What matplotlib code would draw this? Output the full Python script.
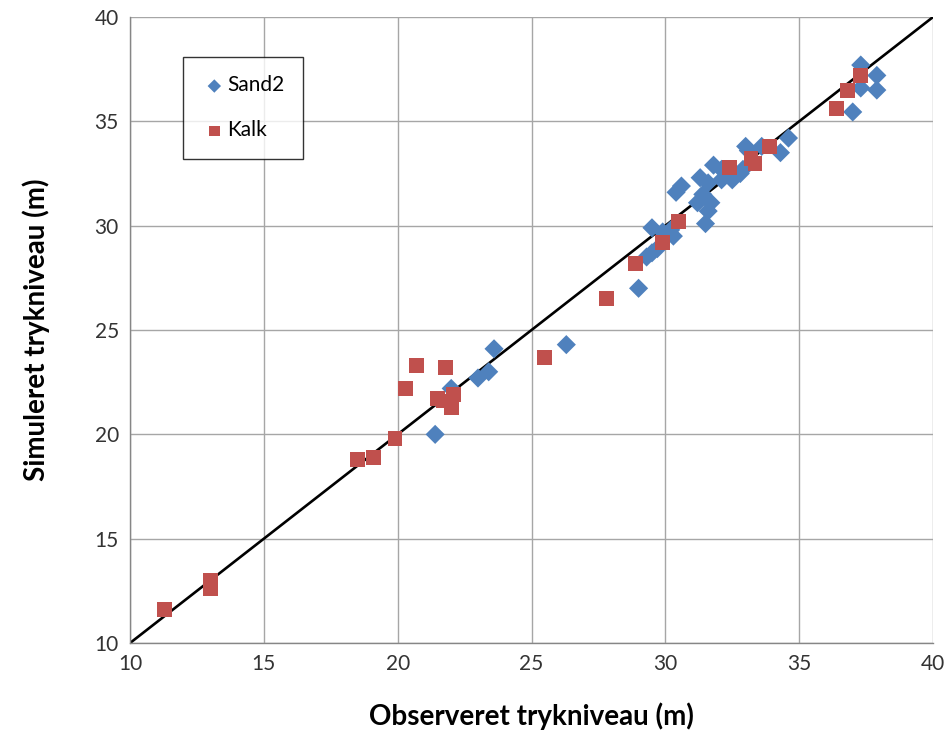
import matplotlib
matplotlib.use("Agg")
import matplotlib.pyplot as plt

sand2_x = [21.4, 22.0, 23.0, 23.4, 23.6, 26.3, 29.0, 29.3, 29.5, 29.7, 29.5, 29.9, 30.2, 30.3,
           30.4, 30.6, 31.2, 31.4, 31.3, 31.6, 31.7, 31.6, 31.5, 31.8, 32.1, 32.1, 32.5, 32.9,
           33.0, 33.1, 33.6, 34.3, 34.6, 32.8, 32.4, 37.0, 37.3, 37.3, 37.9, 37.9]
sand2_y = [20.0, 22.2, 22.7, 23.0, 24.1, 24.3, 27.0, 28.5, 28.7, 28.9, 29.9, 29.7, 29.8, 29.5,
           31.6, 31.9, 31.1, 31.5, 32.3, 32.05, 31.1, 30.7, 30.1, 32.9, 32.7, 32.2, 32.2, 32.7,
           33.8, 33.6, 33.8, 33.5, 34.2, 32.5, 32.4, 35.45, 36.6, 37.7, 37.2, 36.5]

kalk_x = [11.3, 13.0, 13.0, 18.5, 19.1, 19.9, 20.3, 20.7, 21.8, 21.5, 21.7, 22.1, 22.0, 25.5,
          27.8, 28.9, 29.9, 30.5, 32.4, 33.2, 33.35, 33.9, 36.4, 36.8, 37.3]
kalk_y = [11.6, 13.0, 12.6, 18.8, 18.9, 19.8, 22.2, 23.3, 23.2, 21.7, 21.6, 21.9, 21.3, 23.7,
          26.5, 28.2, 29.2, 30.2, 32.8, 33.2, 33.0, 33.8, 35.6, 36.5, 37.2]

line_vals = [10, 40]
ticks = [10, 15, 20, 25, 30, 35, 40]

plt.rcParams['font.family'] = ['Lato', 'DejaVu Sans']

fig = plt.figure(figsize=(9.51, 7.37), dpi=100)
ax = fig.add_axes([0.1367, 0.1275, 0.8444, 0.8494])

ax.plot(line_vals, line_vals, color='black', lw=1.9, zorder=2)
ax.scatter(sand2_x, sand2_y, marker='D', s=95, color='#4F81BD', edgecolors='none',
           label='Sand2', zorder=3)
ax.scatter(kalk_x, kalk_y, marker='s', s=115, color='#C0504D', edgecolors='none',
           label='Kalk', zorder=4)

ax.set_xlim(10, 40)
ax.set_ylim(10, 40)
ax.set_xticks(ticks)
ax.set_yticks(ticks)
ax.grid(True, color='#a6a6a6', lw=1.0)
ax.set_axisbelow(True)
for side in ['top', 'right']:
    ax.spines[side].set_visible(False)
for side in ['left', 'bottom']:
    ax.spines[side].set_color('#868686')
    ax.spines[side].set_linewidth(1.0)
ax.tick_params(axis='both', length=0, labelsize=15, pad=8)
for lbl in ax.get_xticklabels() + ax.get_yticklabels():
    lbl.set_color('#333333')

ax.set_xlabel('Observeret trykniveau (m)', fontsize=20, fontweight='bold', labelpad=20)
ax.set_ylabel('Simuleret trykniveau (m)', fontsize=20, fontweight='bold', labelpad=32)

leg = ax.legend(loc='upper left', bbox_to_anchor=(0.1925, 0.923), bbox_transform=fig.transFigure,
                frameon=True, fancybox=False, fontsize=15, handletextpad=0.0,
                labelspacing=1.2, borderpad=0.9, handlelength=1.2, markerscale=0.7,
                borderaxespad=0)
leg.get_frame().set_edgecolor('black')
leg.get_frame().set_linewidth(1.0)

fig.savefig('out.png', dpi=100)
